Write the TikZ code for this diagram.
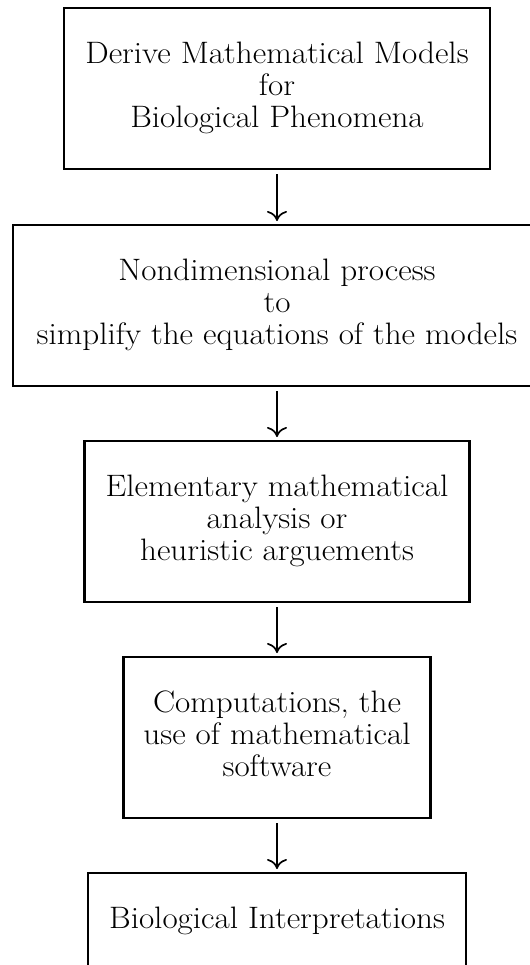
\documentclass[tikz,border=0pt]{standalone}
\usetikzlibrary{arrows.meta}
\begin{document}
\begin{tikzpicture}[x=0.5pt,y=-0.5pt,
  stepbox/.style={draw, line width=1.15pt, inner sep=0pt, anchor=north, minimum height=80.5pt},
  boxtext/.style={anchor=north, inner sep=0pt, align=center, xscale=1.068, font=\fontsize{15.5}{15.85}\selectfont},
  flow/.style={line width=0.85pt, -{To[length=5pt,width=10pt]}, shorten <=2pt, shorten >=1.5pt}]
\clip (0,0) rectangle (530,965);
\node[stepbox, minimum width=213pt] (b1) at (277,7) {};
\node[stepbox, minimum width=264pt] (b2) at (277,224) {};
\node[stepbox, minimum width=192.5pt] (b3) at (277,440) {};
\node[stepbox, minimum width=153.5pt] (b4) at (277,656) {};
\node[stepbox, minimum width=189.3pt] (b5) at (277,872) {};
\node[boxtext] (t1) at ([yshift=-17.4pt]b1.north) {Derive Mathematical Models\\for\\Biological Phenomena};
\node[boxtext] (t2) at ([yshift=-17.4pt]b2.north) {Nondimensional process\\to\\simplify the equations of the models};
\node[boxtext] (t3) at ([yshift=-17.4pt]b3.north) {Elementary mathematical\\analysis or\\heuristic arguements};
\node[boxtext] (t4) at ([yshift=-17.4pt]b4.north) {Computations, the\\use of mathematical\\software};
\node[boxtext] (t5) at ([yshift=-17.4pt]b5.north) {Biological Interpretations};
\draw[flow] (b1) -- (b2);
\draw[flow] (b2) -- (b3);
\draw[flow] (b3) -- (b4);
\draw[flow] (b4) -- (b5);
\end{tikzpicture}
\end{document}
